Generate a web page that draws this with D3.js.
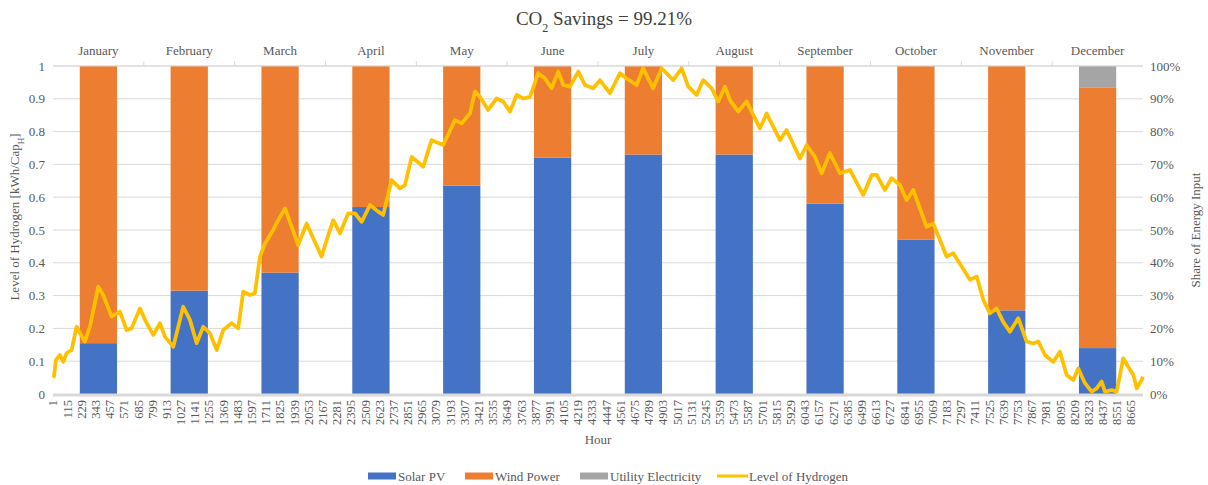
<!DOCTYPE html>
<html>
<head>
<meta charset="utf-8">
<script src="https://cdn.jsdelivr.net/npm/d3@7"></script>
<style>
    body { margin: 0; background: #fff; }
</style>
</head>
<body>
<div id="chart"></div>
<script>

// monthly share of energy input
var months = ["January", "February", "March", "April", "May", "June", "July",
    "August", "September", "October", "November", "December"]
var solarPV = [0.155, 0.315, 0.37, 0.57, 0.635, 0.72, 0.73, 0.73, 0.58, 0.47, 0.255, 0.14]
var windPower = [0.845, 0.685, 0.63, 0.43, 0.365, 0.28, 0.27, 0.27, 0.42, 0.53, 0.745, 0.795]
var utilityElectricity = [0, 0, 0, 0, 0, 0, 0, 0, 0, 0, 0, 0.065]

// level of hydrogen (hour, level)
var h2Hours = [1, 8, 24, 56, 83, 110, 150, 190, 217, 257, 297, 364, 404, 472, 538, 592, 632, 699,
    753, 806, 860, 900, 967, 1047, 1101, 1155, 1208, 1262, 1316, 1369, 1436, 1489, 1529, 1583,
    1623, 1664, 1704, 1770, 1811, 1865, 1905, 1971, 2039, 2092, 2159, 2200, 2253, 2307, 2373,
    2427, 2481, 2548, 2614, 2654, 2722, 2789, 2829, 2883, 2976, 3043, 3137, 3231, 3285, 3351,
    3392, 3432, 3498, 3566, 3619, 3673, 3727, 3780, 3834, 3900, 3954, 4008, 4061, 4101, 4155,
    4222, 4276, 4342, 4396, 4476, 4557, 4610, 4691, 4744, 4824, 4892, 4985, 5053, 5106, 5173,
    5226, 5294, 5347, 5401, 5441, 5508, 5575, 5682, 5736, 5843, 5896, 6004, 6057, 6124, 6178,
    6244, 6325, 6405, 6512, 6580, 6620, 6686, 6740, 6807, 6861, 6914, 7021, 7075, 7182, 7236,
    7370, 7424, 7477, 7530, 7584, 7637, 7691, 7758, 7825, 7879, 7919, 7973, 8039, 8093, 8147,
    8200, 8240, 8294, 8348, 8388, 8428, 8455, 8509, 8549, 8602, 8642, 8683, 8710, 8750, 8760]
var h2Level = [0.05, 0.053, 0.104, 0.119, 0.098, 0.125, 0.134, 0.205, 0.186, 0.16, 0.205, 0.327,
    0.302, 0.236, 0.251, 0.195, 0.2, 0.261, 0.216, 0.18, 0.216, 0.175, 0.144, 0.266, 0.226,
    0.155, 0.205, 0.185, 0.134, 0.195, 0.216, 0.2, 0.312, 0.302, 0.307, 0.419, 0.459, 0.5, 0.53,
    0.566, 0.525, 0.454, 0.52, 0.475, 0.419, 0.47, 0.53, 0.49, 0.551, 0.551, 0.525, 0.576, 0.556,
    0.546, 0.652, 0.627, 0.637, 0.723, 0.693, 0.774, 0.759, 0.835, 0.825, 0.855, 0.922, 0.906,
    0.866, 0.901, 0.892, 0.861, 0.912, 0.901, 0.906, 0.978, 0.962, 0.932, 0.983, 0.942, 0.937,
    0.983, 0.942, 0.932, 0.957, 0.917, 0.978, 0.962, 0.942, 0.993, 0.932, 0.993, 0.957, 0.993,
    0.937, 0.912, 0.957, 0.932, 0.892, 0.937, 0.896, 0.861, 0.892, 0.81, 0.855, 0.774, 0.805,
    0.718, 0.759, 0.723, 0.673, 0.734, 0.673, 0.683, 0.607, 0.668, 0.668, 0.622, 0.658, 0.637,
    0.591, 0.622, 0.51, 0.52, 0.419, 0.429, 0.348, 0.358, 0.287, 0.246, 0.261, 0.22, 0.19, 0.231,
    0.16, 0.154, 0.16, 0.119, 0.098, 0.129, 0.058, 0.043, 0.078, 0.033, 0.007, 0.017, 0.038,
    0.007, 0.012, 0.007, 0.109, 0.083, 0.058, 0.017, 0.043, 0.053]

var leftTicks = [0, 0.1, 0.2, 0.3, 0.4, 0.5, 0.6, 0.7, 0.8, 0.9, 1]
var rightTicks = [0, 0.1, 0.2, 0.3, 0.4, 0.5, 0.6, 0.7, 0.8, 0.9, 1]
var hourTicks = d3.range(1, 8761, 114)   // category labels 1, 115, 229 ... 8665

var series = [
    { name: "Solar PV", values: solarPV, color: "#4472C4" },
    { name: "Wind Power", values: windPower, color: "#ED7D31" },
    { name: "Utility Electricity", values: utilityElectricity, color: "#A5A5A5" }
]
var LINE_COLOR = "#FFC000"
var FONT = "'Liberation Serif', 'DejaVu Serif', serif"

var W = 1208, H = 485
var m = { top: 66, right: 65, bottom: 91, left: 53 }
var w = W - m.left - m.right,
    h = H - m.top - m.bottom

var svg = d3.select("#chart").append("svg")
    .attr("width", W)
    .attr("height", H)
    .attr("font-family", FONT)
    .style("font-family", FONT)

// scales
var xHour = d3.scaleLinear().domain([0.5, 8760.5]).range([0, w])
var xMonth = d3.scaleBand().domain(months).range([0, w])
var yLeft = d3.scaleLinear().domain([0, 1]).range([h, 0])
var yRight = d3.scaleLinear().domain([0, 1]).range([h, 0])

var g = svg.append("g")
    .attr("transform", "translate(" + m.left + "," + m.top + ")")

// gridlines
g.append("g").selectAll("line")
    .data(leftTicks.filter(function (d) { return d > 0 }))
    .enter().append("line")
    .attr("x1", 0)
    .attr("x2", w)
    .attr("y1", function (d) { return yLeft(d) })
    .attr("y2", function (d) { return yLeft(d) })
    .attr("stroke", "#D9D9D9")
    .attr("stroke-width", 1)

// stacked bars
var stack = d3.stack().keys([0, 1, 2])
var stackData = months.map(function (mo, i) {
    return { month: mo, 0: solarPV[i], 1: windPower[i], 2: utilityElectricity[i] }
})
var layers = stack(stackData)
var barW = xMonth.bandwidth() * 0.41

g.append("g").selectAll("g")
    .data(layers)
    .enter().append("g")
    .attr("fill", function (d, i) { return series[i].color })
    .selectAll("rect")
    .data(function (d) { return d })
    .enter().append("rect")
    .attr("x", function (d) { return xMonth(d.data.month) + (xMonth.bandwidth() - barW) / 2 })
    .attr("y", function (d) { return yRight(d[1]) })
    .attr("width", barW)
    .attr("height", function (d) { return yRight(d[0]) - yRight(d[1]) })

// bottom axis line
g.append("line")
    .attr("x1", 0).attr("x2", w)
    .attr("y1", h + 1).attr("y2", h + 1)
    .attr("stroke", "#D9D9D9")
    .attr("stroke-width", 3)

// top month axis
g.append("line")
    .attr("x1", 0).attr("x2", w)
    .attr("y1", 0).attr("y2", 0)
    .attr("stroke", "#D9D9D9")
g.append("g").selectAll("line")
    .data(d3.range(1, months.length))
    .enter().append("line")
    .attr("x1", function (d) { return d * xMonth.step() })
    .attr("x2", function (d) { return d * xMonth.step() })
    .attr("y1", -5).attr("y2", 0)
    .attr("stroke", "#D9D9D9")
g.append("g").selectAll("text")
    .data(months)
    .enter().append("text")
    .attr("x", function (d) { return xMonth(d) + xMonth.bandwidth() / 2 })
    .attr("y", -11)
    .attr("text-anchor", "middle")
    .attr("fill", "#595959")
    .style("font-size", "13px")
    .text(function (d) { return d })

// hydrogen line
var pts = h2Hours.map(function (hr, i) { return [hr, h2Level[i]] })
var line = d3.line()
    .x(function (d) { return xHour(d[0]) })
    .y(function (d) { return yLeft(d[1]) })
g.append("path")
    .datum(pts)
    .attr("d", line)
    .attr("fill", "none")
    .attr("stroke", LINE_COLOR)
    .attr("stroke-width", 3.75)
    .attr("stroke-linejoin", "round")

// left axis labels
g.append("g").selectAll("text")
    .data(leftTicks)
    .enter().append("text")
    .attr("x", -8)
    .attr("y", function (d) { return yLeft(d) })
    .attr("dy", "0.35em")
    .attr("text-anchor", "end")
    .attr("fill", "#595959")
    .style("font-size", "13px")
    .text(function (d) { return d3.format("")(d) })

// right axis labels
g.append("g").selectAll("text")
    .data(rightTicks)
    .enter().append("text")
    .attr("x", w + 7)
    .attr("y", function (d) { return yRight(d) })
    .attr("dy", "0.35em")
    .attr("text-anchor", "start")
    .attr("fill", "#595959")
    .style("font-size", "13px")
    .text(function (d) { return d3.format(".0%")(d) })

// hour labels
g.append("g").selectAll("text")
    .data(hourTicks)
    .enter().append("text")
    .attr("transform", function (d) { return "translate(" + xHour(d) + "," + (h + 6) + ") rotate(-90)" })
    .attr("dy", "0.35em")
    .attr("text-anchor", "end")
    .attr("fill", "#595959")
    .style("font-size", "12.5px")
    .text(function (d) { return d })

// axis titles
svg.append("text")
    .attr("x", m.left + w / 2)
    .attr("y", 444)
    .attr("text-anchor", "middle")
    .attr("fill", "#595959")
    .style("font-size", "13px")
    .text("Hour")

var lt = svg.append("text")
    .attr("transform", "translate(19,217) rotate(-90)")
    .attr("text-anchor", "middle")
    .attr("fill", "#595959")
    .style("font-size", "13px")
lt.append("tspan").text("Level of Hydrogen [kWh/Cap")
lt.append("tspan").attr("baseline-shift", "sub").style("font-size", "9px").text("H")
lt.append("tspan").text("]")

svg.append("text")
    .attr("transform", "translate(1200,230) rotate(-90)")
    .attr("text-anchor", "middle")
    .attr("fill", "#595959")
    .style("font-size", "13px")
    .text("Share of Energy Input")

// title
var tt = svg.append("text")
    .attr("x", W / 2)
    .attr("y", 25)
    .attr("text-anchor", "middle")
    .attr("fill", "#404040")
    .style("font-size", "19px")
tt.append("tspan").text("CO")
tt.append("tspan").attr("baseline-shift", "sub").style("font-size", "12px").text("2")
tt.append("tspan").text(" Savings = 99.21%")

// legend
var legendItems = series.map(function (s) { return { name: s.name, color: s.color, type: "bar" } })
legendItems.push({ name: "Level of Hydrogen", color: LINE_COLOR, type: "line" })
var legendX = [368, 465, 580, 717]

var lg = svg.append("g").selectAll("g")
    .data(legendItems)
    .enter().append("g")
    .attr("transform", function (d, i) { return "translate(" + legendX[i] + ",476)" })
lg.append("rect")
    .attr("x", 0)
    .attr("y", function (d) { return d.type == "bar" ? -3.5 : -1.5 })
    .attr("width", function (d) { return d.type == "bar" ? 28 : 31 })
    .attr("height", function (d) { return d.type == "bar" ? 7 : 3 })
    .attr("fill", function (d) { return d.color })
lg.append("text")
    .attr("x", function (d) { return d.type == "bar" ? 30 : 32 })
    .attr("dy", "0.35em")
    .attr("fill", "#595959")
    .style("font-size", "13px")
    .text(function (d) { return d.name })

</script>
</body>
</html>
